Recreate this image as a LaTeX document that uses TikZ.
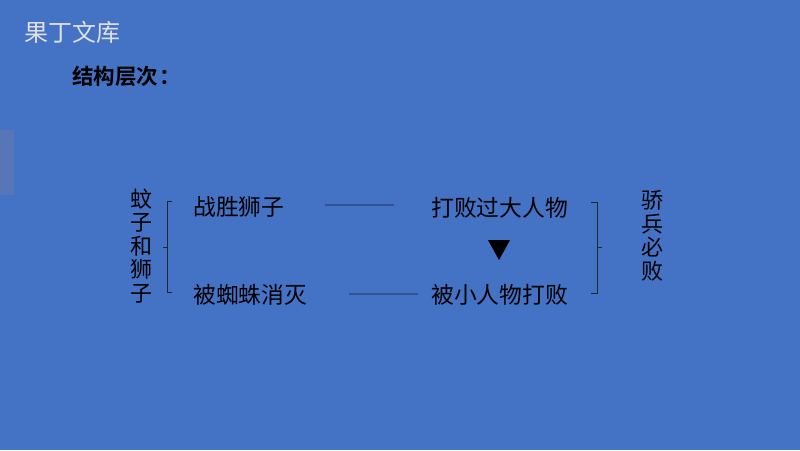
\documentclass[tikz,border=0pt]{standalone}
\usepackage{fontspec}
\setmainfont{Noto Sans CJK SC}
\newfontfamily\cjk{Noto Sans CJK SC}
\newfontfamily\cjkb{Noto Sans CJK SC Bold}
\begin{document}
\begin{tikzpicture}[x=1pt,y=-1pt,
  txt/.style={inner sep=0pt,anchor=west,font=\cjk\fontsize{22.8}{23}\selectfont,text=black},
  vtxt/.style={inner sep=0pt,font=\cjk\fontsize{22}{23.5}\selectfont,text=black,align=center},
  link/.style={draw=linkc,line width=1.1pt},
  brk/.style={draw=black!85,line width=0.9pt}]
\definecolor{bg}{HTML}{4472C4}
\definecolor{linkc}{HTML}{34548F}
\definecolor{side}{HTML}{5676B8}
\useasboundingbox (0,0) rectangle (800,450);
\fill[bg] (0,0) rectangle (800,450);
\fill[side] (0,130) rectangle (14,195);
\node[inner sep=0pt,anchor=west,font=\cjk\fontsize{24}{26}\selectfont,text=black!12] (title) at (24,32) {果丁文库};
\node[inner sep=0pt,anchor=west,font=\cjkb\fontsize{21.5}{22}\selectfont,text=black] (head) at (72,76) {结构层次\hspace{1pt}：};
% vertical texts
\node[vtxt] (left) at (141,246) {蚊\\子\\和\\狮\\子};
\node[vtxt] (right) at (652,236) {骄\\兵\\必\\败};
% texts
\node[txt] (a) at (193,207) {战胜狮子};
\node[txt] (b) at (193,295) {被蜘蛛消灭};
\node[txt] (c) at (431,208) {打败过大人物};
\node[txt] (d) at (431,295) {被小人物打败};
\node[inner sep=0pt] (tri) at (499,250) {\tikz\fill[black] (0,0) -- (22pt,0) -- (11pt,-20pt) -- cycle;};
% connectors
\coordinate (l1a) at (325,205); \coordinate (l1b) at (394,205);
\coordinate (l2a) at (349,294); \coordinate (l2b) at (418,294);
\draw[link] (l1a) -- (l1b);
\draw[link] (l2a) -- (l2b);
% brackets
\draw[brk] (172,201) -- (167,201) -- (167,292) -- (172,292);
\draw[brk] (167,247) -- (163,247);
\draw[brk] (591,202) -- (597,202) -- (597,293) -- (591,293);
\draw[brk] (597,247) -- (602,247);
\end{tikzpicture}
\end{document}
